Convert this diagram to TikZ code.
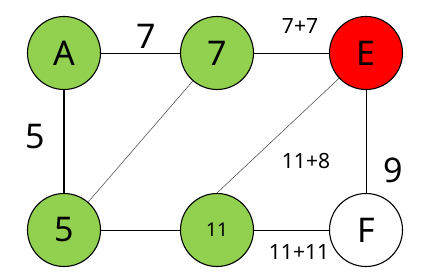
\documentclass[tikz,border=0pt]{standalone}
\usepackage{fontspec}
\setmainfont{Noto Sans}
\usetikzlibrary{positioning}
\definecolor{leaf}{HTML}{92D050}

\begin{document}
\begin{tikzpicture}[
  x=1pt,y=-1pt,
  vtx/.style={circle, draw=black, line width=1.1pt, minimum size=73pt, inner sep=0pt, font=\fontsize{34}{36}\selectfont},
  done/.style={vtx, fill=leaf},
  hot/.style={vtx, fill=red},
  open/.style={vtx, fill=white},
  edge/.style={draw=black, line width=0.8pt},
  tree/.style={draw=black, line width=1.4pt},
  link/.style={draw=black!75, line width=0.5pt},
  big/.style={font=\fontsize{34}{36}\selectfont},
  sml/.style={font=\fontsize{21}{24}\selectfont}
]
  \useasboundingbox (0,0) rectangle (427,280);

  \node[done] (A) at (64,53) {A};
  \node[done] (n7) at (217,53) {7};
  \node[hot] (E) at (366,53) {E};
  \node[done] (n5) at (64,230) {5};
  \node[done, font=\fontsize{19}{21}\selectfont] (n11) at (217,230) {11};
  \node[open] (F) at (366,230) {F};

  \draw[edge] (A) -- (n7);
  \draw[edge] (n7) -- (E);
  \draw[tree] (A) -- (n5);
  \draw[link] (n7) -- (n5);
  \draw[link] (E) -- (n11.north);
  \draw[edge] (E) -- (F);
  \draw[edge] (n5) -- (n11);
  \draw[edge] (n11) -- (F);

  \node[big] (wAB) at (146,36) {7};
  \node[sml] (wBE) at (300,26) {7+7};
  \node[big] (wA5) at (35,137) {5};
  \node[sml] (wE11) at (306,161) {11+8};
  \node[big] (wEF) at (393,170) {9};
  \node[sml] (w11F) at (299,252) {11+11};
\end{tikzpicture}
\end{document}
